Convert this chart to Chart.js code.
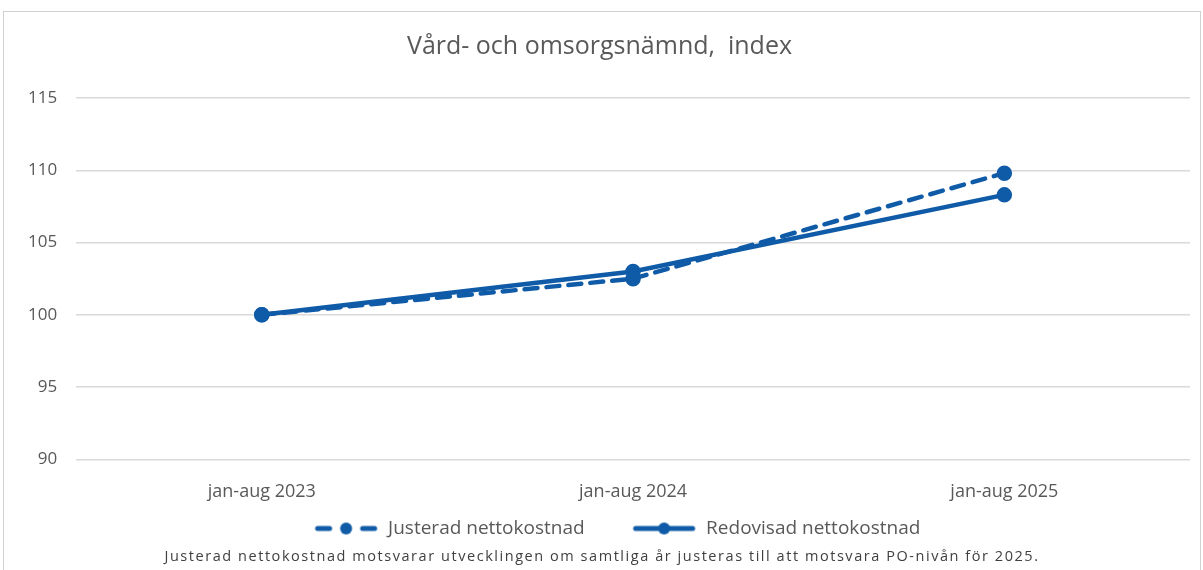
<!DOCTYPE html>
<html>
<head>
<meta charset="utf-8">
<script src="https://cdn.jsdelivr.net/npm/chart.js@4"></script>
<style>
html,body{margin:0;padding:0;background:#fff;}
#wrap{position:absolute;left:3px;top:11px;width:1198px;height:570px;border:1px solid #d0d0d0;box-sizing:border-box;}
canvas{display:block;}
#note{position:absolute;left:0;top:534px;width:1196px;text-align:center;font-family:'Open Sans',sans-serif;font-size:14.5px;letter-spacing:1.55px;color:#404040;}
</style>
</head>
<body>
<div id="wrap"><canvas id="chart" width="1196" height="536"></canvas>
<div id="note">Justerad nettokostnad motsvarar utvecklingen om samtliga år justeras till att motsvara PO-nivån för 2025.</div></div>
<script>
//data
const periods = ['jan-aug 2023','jan-aug 2024','jan-aug 2025'];
const justerad = [100, 102.5, 109.8];
const redovisad = [100, 103.0, 108.3];
const yTicks = [90, 95, 100, 105, 110, 115];

const blue = '#0f5ba7';
const grey = '#595959';
const fontName = "'Open Sans', sans-serif";

//legend symbols: small line with a dot (blank margin on the left makes the gap between items)
function legendIcon(dashed){
	const c = document.createElement('canvas');
	c.width = 100; c.height = 16;
	const g = c.getContext('2d');
	const x0 = 36, x1 = 99;
	g.strokeStyle = blue;
	g.lineWidth = 5;
	g.lineCap = 'round';
	if(dashed){
		g.beginPath(); g.moveTo(x0+3,8); g.lineTo(x0+15,8); g.stroke();
		g.beginPath(); g.moveTo(x1-15,8); g.lineTo(x1-3,8); g.stroke();
	}else{
		g.beginPath(); g.moveTo(x0+3,8); g.lineTo(x1-3,8); g.stroke();
	}
	g.fillStyle = blue;
	g.beginPath(); g.arc((x0+x1)/2,8,6,0,Math.PI*2); g.fill();
	return c;
}
const icons = [legendIcon(true), legendIcon(false)];

const ctx = document.getElementById('chart');
const chart = new Chart(ctx, {
	type: 'line',
	data: {
		labels: periods,
		datasets: [{
			label: 'Justerad nettokostnad',
			data: justerad,
			borderColor: blue,
			backgroundColor: blue,
			borderWidth: 4.5,
			borderDash: [13,9],
			borderCapStyle: 'round',
			pointRadius: 5.5,
			pointHoverRadius: 5.5,
			tension: 0
		},{
			label: 'Redovisad nettokostnad',
			data: redovisad,
			borderColor: blue,
			backgroundColor: blue,
			borderWidth: 4.5,
			borderCapStyle: 'round',
			pointRadius: 5.5,
			pointHoverRadius: 5.5,
			tension: 0
		}]
	},
	options: {
		responsive: false,
		animation: false,
		layout: { padding: { left: 5, right: 10, top: 0, bottom: 0 } },
		scales: {
			x: {
				offset: true,
				grid: { display: false, drawTicks: false },
				border: { display: false },
				ticks: { color: grey, font: { family: fontName, size: 18 }, padding: 22 },
				afterFit: function(axis){ axis.height -= 18; }
			},
			y: {
				min: 90, max: 115,
				afterBuildTicks: function(axis){ axis.ticks = yTicks.map(v => ({value: v})); },
				grid: { color: '#d9d9d9', lineWidth: 1.5, drawTicks: false },
				border: { display: false },
				ticks: { color: grey, font: { family: fontName, size: 17 }, padding: 19 }
			}
		},
		plugins: {
			title: {
				display: true,
				text: 'Vård- och omsorgsnämnd,  index',
				color: grey,
				font: { family: fontName, size: 25, weight: 'normal' },
				padding: { top: 20, bottom: 36 }
			},
			legend: {
				position: 'bottom',
				labels: {
					color: grey,
					font: { family: fontName, size: 19 },
					usePointStyle: true,
					pointStyleWidth: 100,
					boxHeight: 16,
					padding: 12,
					generateLabels: function(chart){
						return chart.data.datasets.map((ds, i) => ({
							text: ds.label,
							fontColor: grey,
							pointStyle: icons[i],
							datasetIndex: i,
							hidden: false
						}));
					}
				}
			},
			tooltip: { enabled: false }
		}
	}
});
</script>
</body>
</html>
